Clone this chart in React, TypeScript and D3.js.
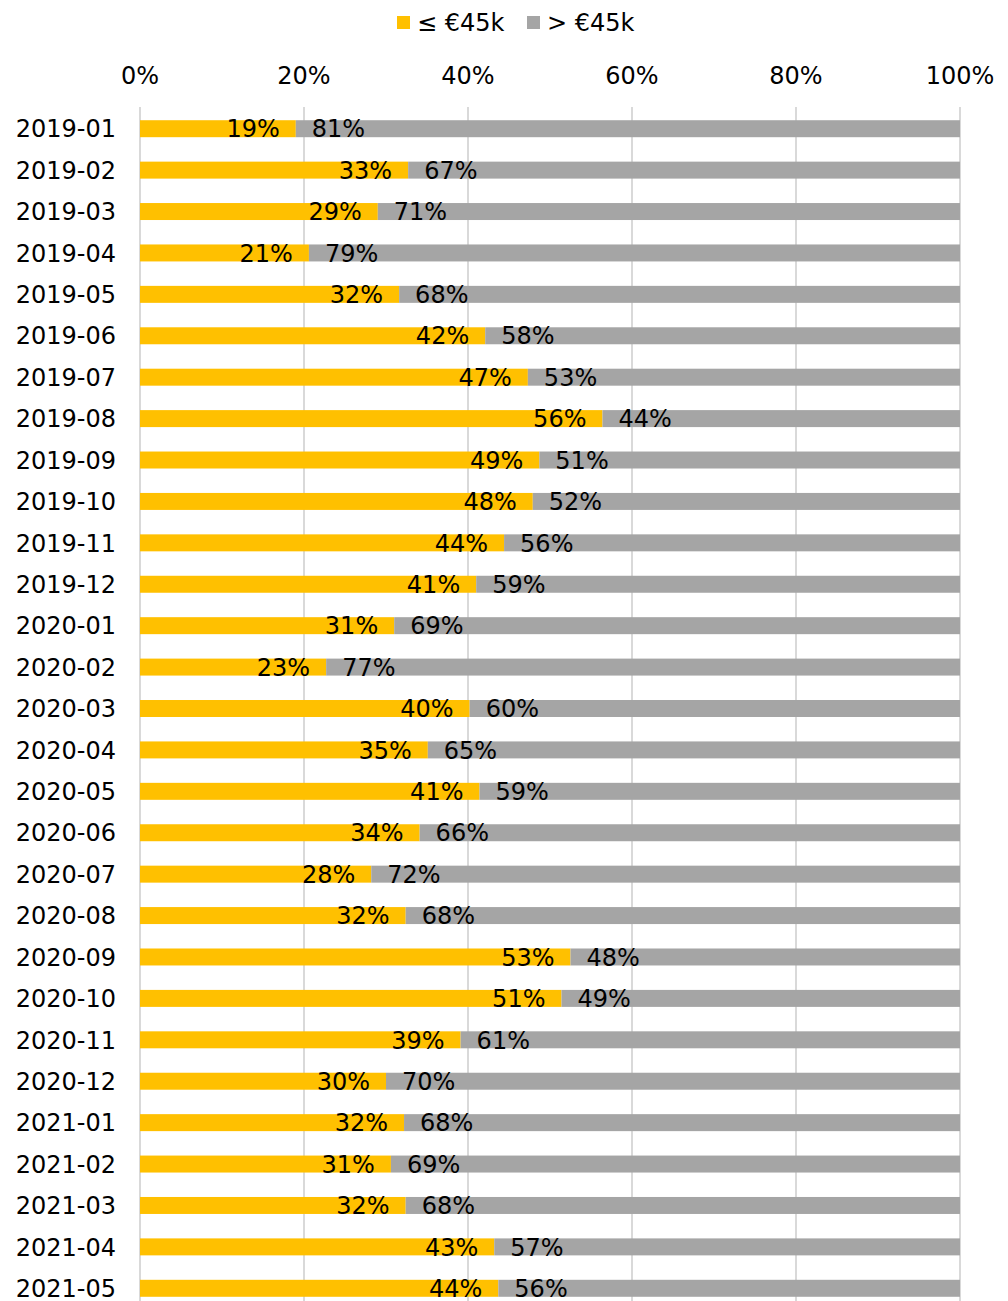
import * as d3 from 'd3';

const months = [
  '2019-01', '2019-02', '2019-03', '2019-04', '2019-05', '2019-06', '2019-07', '2019-08',
  '2019-09', '2019-10', '2019-11', '2019-12', '2020-01', '2020-02', '2020-03', '2020-04',
  '2020-05', '2020-06', '2020-07', '2020-08', '2020-09', '2020-10', '2020-11', '2020-12',
  '2021-01', '2021-02', '2021-03', '2021-04', '2021-05',
];

// share of transactions <= €45k (%)
const lowShare = [
  19.0, 32.7, 29.0, 20.6, 31.6, 42.1, 47.3, 56.4,
  48.7, 47.9, 44.4, 41.0, 31.0, 22.7, 40.2, 35.1,
  41.4, 34.1, 28.2, 32.4, 52.5, 51.4, 39.1, 30.0,
  32.2, 30.6, 32.4, 43.2, 43.7,
];

// share of transactions > €45k (%)
const highShare = [
  81.0, 67.3, 71.0, 79.4, 68.4, 57.9, 52.7, 43.6,
  51.3, 52.1, 55.6, 59.0, 69.0, 77.3, 59.8, 64.9,
  58.6, 65.9, 71.8, 67.6, 47.5, 48.6, 60.9, 70.0,
  67.8, 69.4, 67.6, 56.8, 56.3,
];

const xTicks = [0, 20, 40, 60, 80, 100];

const series = [
  { name: '≤ €45k', color: '#ffc000' },
  { name: '> €45k', color: '#a5a5a5' },
];

const W = 1008;
const H = 1301;
const FONT = '"DejaVu Sans", Verdana, sans-serif';

export default function App() {
  const x = d3.scaleLinear().domain([0, 100]).range([140, 960]);
  const y = d3.scaleBand<string>()
    .domain(months)
    .range([108, 1309])
    .paddingInner(0.59)
    .paddingOuter(0.295);
  const bh = y.bandwidth();

  const rows = months.map((m, i) => ({ m, lo: lowShare[i], hi: highShare[i] }));

  return (
    <svg width={W} height={H} style={{ position: 'absolute', left: 0, top: 0, fontFamily: FONT }}>
      <rect width={W} height={H} fill="#fff" />

      {/* legend */}
      <g>
        <rect x={397} y={16} width={13} height={13} fill={series[0].color} />
        <text x={417} y={31} fontSize={24} fill="#000">{series[0].name}</text>
        <rect x={527} y={16} width={13} height={13} fill={series[1].color} />
        <text x={547} y={31} fontSize={24} fill="#000">{series[1].name}</text>
      </g>

      {/* grid + ticks */}
      {xTicks.map(t => (
        <g key={t}>
          <line x1={x(t)} x2={x(t)} y1={107} y2={H} stroke="#d9d9d9" strokeWidth={2} />
          <text x={x(t)} y={84} textAnchor="middle" fontSize={24} fill="#000">{t}%</text>
        </g>
      ))}

      {rows.map(r => {
        const y0 = y(r.m) as number;
        const cy = y0 + bh / 2;
        const split = x(r.lo);
        return (
          <g key={r.m}>
            <text x={116} y={cy + 8.7} textAnchor="end" fontSize={24} fill="#000">{r.m}</text>
            <rect x={x(0)} y={y0} width={split - x(0)} height={bh} fill={series[0].color} />
            <rect x={split} y={y0} width={x(r.lo + r.hi) - split} height={bh} fill={series[1].color} />
            <text x={split - 16} y={cy + 8.7} textAnchor="end" fontSize={24} fill="#000">
              {Math.round(r.lo)}%
            </text>
            <text x={split + 16} y={cy + 8.7} textAnchor="start" fontSize={24} fill="#000">
              {Math.round(r.hi)}%
            </text>
          </g>
        );
      })}
    </svg>
  );
}
